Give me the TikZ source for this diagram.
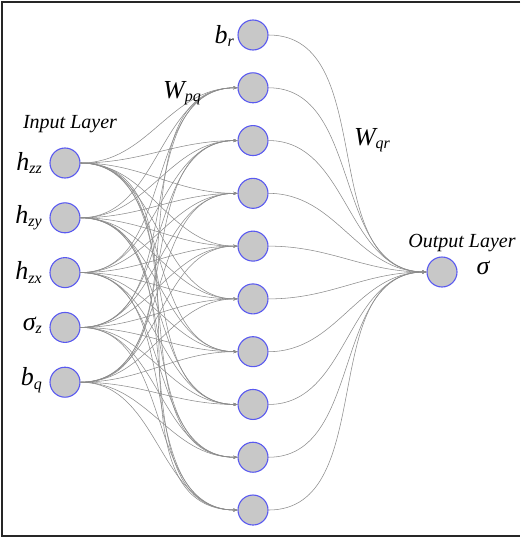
\documentclass[tikz,border=0pt]{standalone}
\usepackage{fontspec}
\setmainfont{Liberation Serif}
\usetikzlibrary{arrows.meta}
\definecolor{nodefill}{RGB}{200,200,200}
\definecolor{nodeline}{RGB}{90,90,240}
\definecolor{edgecol}{RGB}{140,140,140}
\tikzset{
  neuron/.style={circle,draw=nodeline,fill=nodefill,line width=1.1pt,minimum size=30pt,inner sep=0pt},
  conn/.style={draw=edgecol,line width=0.55pt,-{Stealth[length=4pt,width=3pt]}},
  lbl/.style={font=\itshape\fontsize{26}{28}\selectfont,inner sep=0pt},
  layerlbl/.style={font=\itshape\fontsize{20}{22}\selectfont,inner sep=0pt}
}
\newcommand{\sbs}[1]{\raisebox{-0.3ex}{\fontsize{16}{17}\selectfont #1}}
\begin{document}
\begin{tikzpicture}[x=1pt,y=-1pt]
\useasboundingbox (0,0) rectangle (520,538);
\draw[line width=1.6pt,black!85] (520,2) -- (2,2) -- (2,536) -- (520,536);
% input nodes
\foreach \i in {0,...,4}{
  \node[neuron] (in\i) at (65,{163+54.8*\i}) {};
}
% hidden nodes
\foreach \k in {0,...,9}{
  \node[neuron] (h\k) at (253,{35+52.78*\k}) {};
}
\node[neuron] (out) at (442,272) {};
% edges input -> hidden
\foreach \i in {0,...,4}{
  \foreach \k in {1,...,9}{
    \draw[conn] (in\i.east) to[out=0,in=180] (h\k.west);
  }
}
% edges hidden -> output
\foreach \k in {0,...,9}{
  \draw[conn] (h\k.east) to[out=0,in=180] (out.west);
}
% labels
\node[layerlbl] (inl) at (70,124) {Input Layer};
\node[layerlbl] (outl) at (462,243) {Output Layer};
\node[lbl,anchor=east] (l0) at (42,163) {h\sbs{zz}};
\node[lbl,anchor=east] (l1) at (42,217.8) {h\sbs{zy}};
\node[lbl,anchor=east] (l2) at (42,272.6) {h\sbs{zx}};
\node[lbl,anchor=east] (l3) at (42,325.4) {σ\sbs{z}};
\node[lbl,anchor=east] (l4) at (42,380.2) {b\sbs{q}};
\node[lbl,anchor=east] (lb) at (234,36) {b\sbs{r}};
\node[lbl] (wpq) at (182,93) {W\sbs{pq}};
\node[lbl] (wqr) at (372,140) {W\sbs{qr}};
\node[lbl] (sig) at (483,268) {σ};
\end{tikzpicture}
\end{document}
